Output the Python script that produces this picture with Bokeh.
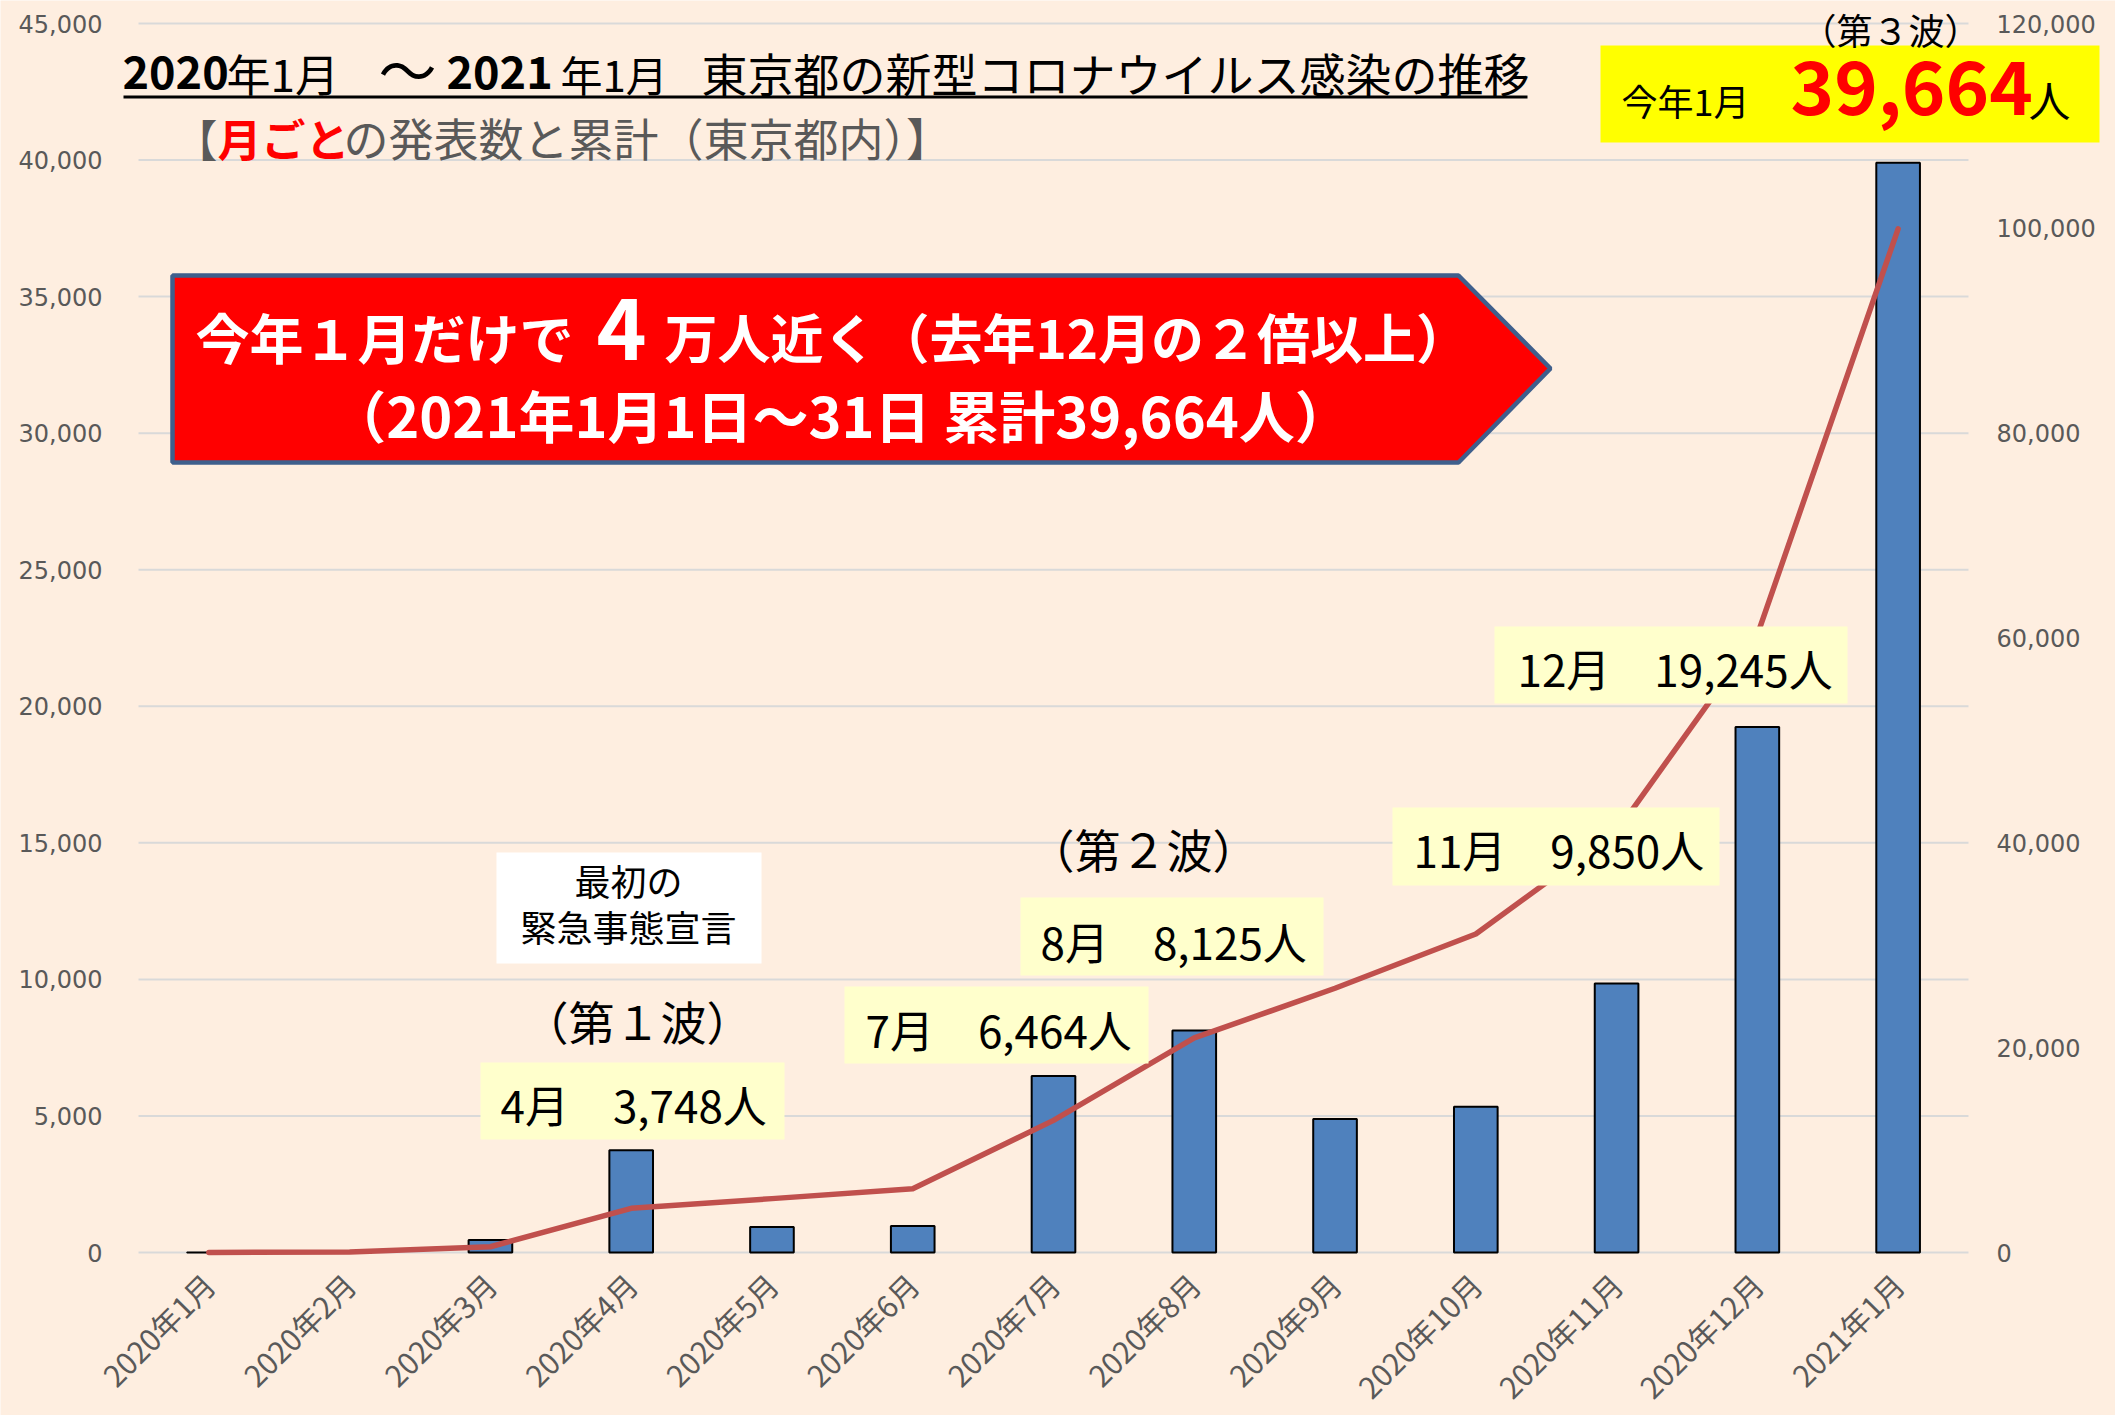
import math
from bokeh.plotting import figure
from bokeh.models import (Range1d, LinearAxis, FixedTicker, NumeralTickFormatter,
                          ColumnDataSource, BoxAnnotation, PolyAnnotation, Label)
from bokeh.embed import file_html
from bokeh.resources import INLINE

# ---------------- data ----------------
months = ["2020年1月", "2020年2月", "2020年3月", "2020年4月", "2020年5月", "2020年6月",
          "2020年7月", "2020年8月", "2020年9月", "2020年10月", "2020年11月", "2020年12月",
          "2021年1月"]
monthly_cases = [2, 38, 460, 3748, 930, 970, 6464, 8125, 4890, 5340, 9850, 19245, 39900]
cumulative_cases = [2, 40, 560, 4310, 5260, 6230, 12900, 20950, 25800, 31100, 41100, 60300, 99950]
left_ticks = [0, 5000, 10000, 15000, 20000, 25000, 30000, 35000, 40000, 45000]
right_ticks = [0, 20000, 40000, 60000, 80000, 100000, 120000]

title_parts = ["2020", "年1月", "～", "2021", "年1月", "東京都の新型コロナウイルス感染の推移"]
subtitle_parts = ["【", "月ごと", "の発表数と累計（東京都内）】"]
callouts = ["4月　3,748人", "7月　6,464人", "8月　8,125人", "11月　9,850人", "12月　19,245人"]

# ---------------- layout ----------------
W, H = 2115, 1415
FX0, FX1 = 138, 1968      # category area left/right (px)
FY0, FY1 = 1252, 23       # y=0 and y=45000 (px)
NCAT = len(months)
YMAX = left_ticks[-1]
RMAX = right_ticks[-1]

def dx(X):
    return -0.5 + (X - FX0) / (FX1 - FX0) * NCAT

def dy(Y):
    return (FY0 - Y) / (FY0 - FY1) * YMAX

BG = "#FEEEE0"
JP = "Noto Sans CJK JP"
BASE_FIX = 0.34   # baseline correction (fraction of font size)

p = figure(width=W, height=H, output_backend="svg", toolbar_location=None,
           x_range=Range1d(dx(0), dx(W)), y_range=Range1d(dy(H), dy(0)),
           min_border_left=0, min_border_right=0, min_border_top=0, min_border_bottom=0)
k = RMAX / YMAX
p.extra_y_ranges = {"cum": Range1d(dy(H) * k, dy(0) * k)}
p.background_fill_color = BG
p.border_fill_color = BG
p.outline_line_color = None
p.grid.grid_line_color = None

# gridlines (left-axis ticks) across the category area
p.segment(x0=[-0.5] * len(left_ticks), x1=[NCAT - 0.5] * len(left_ticks),
          y0=left_ticks, y1=left_ticks, line_color="#D9D9D9", line_width=2)

src = ColumnDataSource(dict(x=list(range(NCAT)), cases=monthly_cases, cum=cumulative_cases))
p.vbar(x="x", top="cases", width=0.31, source=src, fill_color="#4F81BD",
       line_color="black", line_width=2)
p.line(x="x", y="cum", source=src, y_range_name="cum", line_color="#C0504D",
       line_width=5.5, line_join="round", line_cap="round")

# axes
def style_axis(ax, font, size, standoff):
    ax.axis_line_color = None
    ax.major_tick_line_color = None
    ax.minor_tick_line_color = None
    ax.major_tick_out = 0
    ax.major_tick_in = 0
    ax.major_label_text_font = font
    ax.major_label_text_font_size = size
    ax.major_label_text_color = "#595959"
    ax.major_label_standoff = standoff

lax = p.yaxis[0]
lax.ticker = FixedTicker(ticks=left_ticks)
lax.formatter = NumeralTickFormatter(format="0,0")
lax.fixed_location = -0.5
style_axis(lax, "DejaVu Sans", "24px", 36)

rax = LinearAxis(y_range_name="cum", ticker=FixedTicker(ticks=right_ticks),
                 formatter=NumeralTickFormatter(format="0,0"))
rax.fixed_location = NCAT - 0.5
style_axis(rax, "DejaVu Sans", "24px", 28)
p.add_layout(rax, "right")

bax = p.xaxis[0]
bax.ticker = FixedTicker(ticks=list(range(NCAT)))
bax.major_label_overrides = {i: m for i, m in enumerate(months)}
bax.major_label_orientation = math.pi / 4
bax.fixed_location = 0
style_axis(bax, JP, "30px", 26)

# ---------------- annotations ----------------
def box(x0, y0, x1, y1, color):
    p.add_layout(BoxAnnotation(left=dx(x0), right=dx(x1), top=dy(y0), bottom=dy(y1),
                               fill_color=color, fill_alpha=1.0, line_color=None))

def lab(X, Y, text, size, color="black", bold=False, align="left", font=JP):
    p.add_layout(Label(x=dx(X), y=dy(Y - BASE_FIX * size), text=text, text_font=font,
                       text_font_size=f"{size}px", text_color=color,
                       text_font_style="bold" if bold else "normal",
                       text_align=align, text_baseline="alphabetic"))

# title
lab(122, 87, title_parts[0], 45, bold=True)
lab(226, 87, title_parts[1], 44)
lab(378, 87, title_parts[2], 58)
lab(446, 87, title_parts[3], 45, bold=True)
lab(560, 87, title_parts[4], 42)
lab(701, 87, title_parts[5], 46)
box(123, 95, 1527, 98, "black")

# subtitle
lab(173, 152, subtitle_parts[0], 44, color="#595959")
lab(217, 152, subtitle_parts[1], 44, color="#FF0000", bold=True)
lab(343, 152, subtitle_parts[2], 45, color="#595959")

# yellow box top-right
box(1600, 45, 2099, 142, "#FFFF00")
lab(1621, 112, "今年1月", 36)
lab(1790, 112, "39,664", 74, color="#FF0000", bold=True)
lab(2028, 112, "人", 42)
lab(1890, 41, "（第３波）", 36, align="center")

# red arrow
ax_pts = [172, 1458, 1550, 1458, 172]
ay_pts = [275, 275, 368, 462, 462]
p.add_layout(PolyAnnotation(xs=[dx(v) for v in ax_pts], ys=[dy(v) for v in ay_pts],
                            fill_color="#FF0000", fill_alpha=1.0,
                            line_color="#3F5F8C", line_alpha=1.0, line_width=4.5))
lab(195, 354, "今年１月だけで", 54, color="white", bold=True)
lab(596, 357, "4", 85, color="white", bold=True)
lab(664, 354, "万人近く（去年12月の２倍以上）", 53, color="white", bold=True)
lab(840, 432, "（2021年1月1日～31日 累計39,664人）", 56, color="white", bold=True, align="center")

# first emergency declaration
box(496, 852, 761, 963, "white")
lab(628, 892, "最初の", 36, align="center")
lab(628, 938, "緊急事態宣言", 36, align="center")

lab(637, 1035, "（第１波）", 46, align="center")
lab(1143, 863, "（第２波）", 46, align="center")

# callout boxes
cb = [(480, 1062, 784, 1139, 500, 1118),
      (844, 986, 1148, 1063, 865, 1043),
      (1020, 897, 1323, 975, 1040, 955),
      (1392, 807, 1719, 885, 1413, 863),
      (1494, 626, 1847, 703, 1517, 682)]
for (x0, y0, x1, y1, tx, ty), txt in zip(cb, callouts):
    box(x0, y0, x1, y1, "#FFFFCC")
    lab(tx, ty, txt, 44)

open("out.html", "w").write(file_html(p, INLINE))
